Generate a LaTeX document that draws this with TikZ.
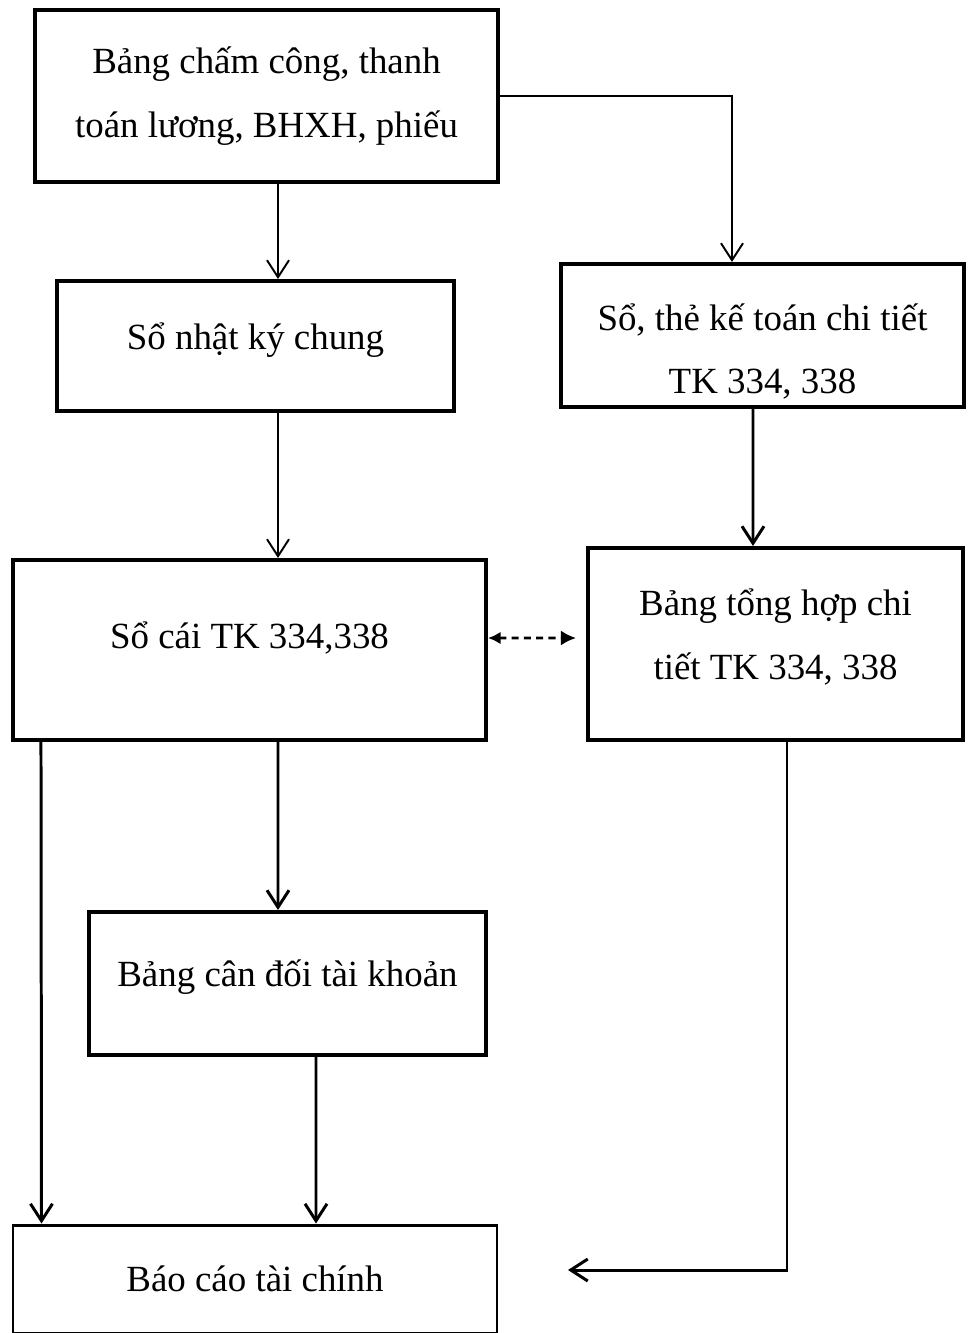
\documentclass[tikz,border=0pt]{standalone}
\usepackage{fontspec}
\setmainfont{Liberation Serif}
\usetikzlibrary{arrows.meta}

\begin{document}
\begin{tikzpicture}[
  box/.style={draw,line width=2.3pt,align=center,inner sep=0pt,
    font=\fontsize{21}{36}\selectfont},
  thinarr/.style={line width=1.1pt,-{Straight Barb[length=3.4mm,width=4.4mm]}},
  thickarr/.style={line width=1.7pt,-{Straight Barb[length=3.4mm,width=4.4mm]}}]
\useasboundingbox (0,0) rectangle (19.36,-26.66);
% boxes
\node[box,minimum width=9.26cm,minimum height=3.44cm] (b1) at (5.33,-1.92)
  {Bảng chấm công, thanh\\toán lương, BHXH, phiếu};
\node[box,minimum width=7.94cm,minimum height=2.6cm] (b2) at (5.11,-6.92)
  {Sổ nhật ký chung\\[-0.87cm]};
\node[box,minimum width=8.06cm,minimum height=2.86cm] (b3) at (15.25,-6.71)
  {Sổ, thẻ kế toán chi tiết\\TK 334, 338\\[-1.79cm]};
\node[box,minimum width=9.46cm,minimum height=3.6cm] (b4) at (4.99,-13.0)
  {Sổ cái TK 334,338\\[-0.67cm]};
\node[box,minimum width=7.5cm,minimum height=3.84cm] (b5) at (15.51,-12.88)
  {Bảng tổng hợp chi\\tiết TK 334, 338\\[-0.87cm]};
\node[box,minimum width=7.94cm,minimum height=2.86cm] (b6) at (5.75,-19.67)
  {Bảng cân đối tài khoản\\[-0.87cm]};
\node[box,line width=1.7pt,minimum width=9.68cm,minimum height=2.16cm] (b7) at (5.1,-25.58)
  {Báo cáo tài chính};
\coordinate (fc) at (11.36,-25.4);
% connectors
\draw[thinarr] ([xshift=2.3mm]b1.south) -- ([xshift=4.5mm]b2.north);
\draw[thinarr] (b1.east) -| ([xshift=-6.1mm]b3.north);
\draw[thinarr] ([xshift=4.5mm]b2.south) -- ([xshift=5.7mm]b4.north);
\draw[thickarr] ([xshift=-1.9mm]b3.south) -- ([xshift=-4.5mm]b5.north);
\draw[line width=1.5pt,dash pattern=on 4pt off 3pt,
  {Latex[length=2.5mm,width=2.5mm]}-{Latex[length=3mm,width=3mm]},shorten >=2mm]
  ([yshift=2.4mm]b4.east) -- ([yshift=1.2mm]b5.west);
\draw[thickarr] ([xshift=5.7mm]b4.south) -- ([xshift=-1.9mm]b6.north);
\draw[thickarr] ([xshift=6mm]b4.south west) -- ([xshift=6mm]b7.north west);
\draw[thickarr] ([xshift=5.7mm]b6.south) -- ([xshift=12.2mm]b7.north);
\draw[thickarr] ([xshift=2.3mm]b5.south) |- (fc);
\end{tikzpicture}
\end{document}
